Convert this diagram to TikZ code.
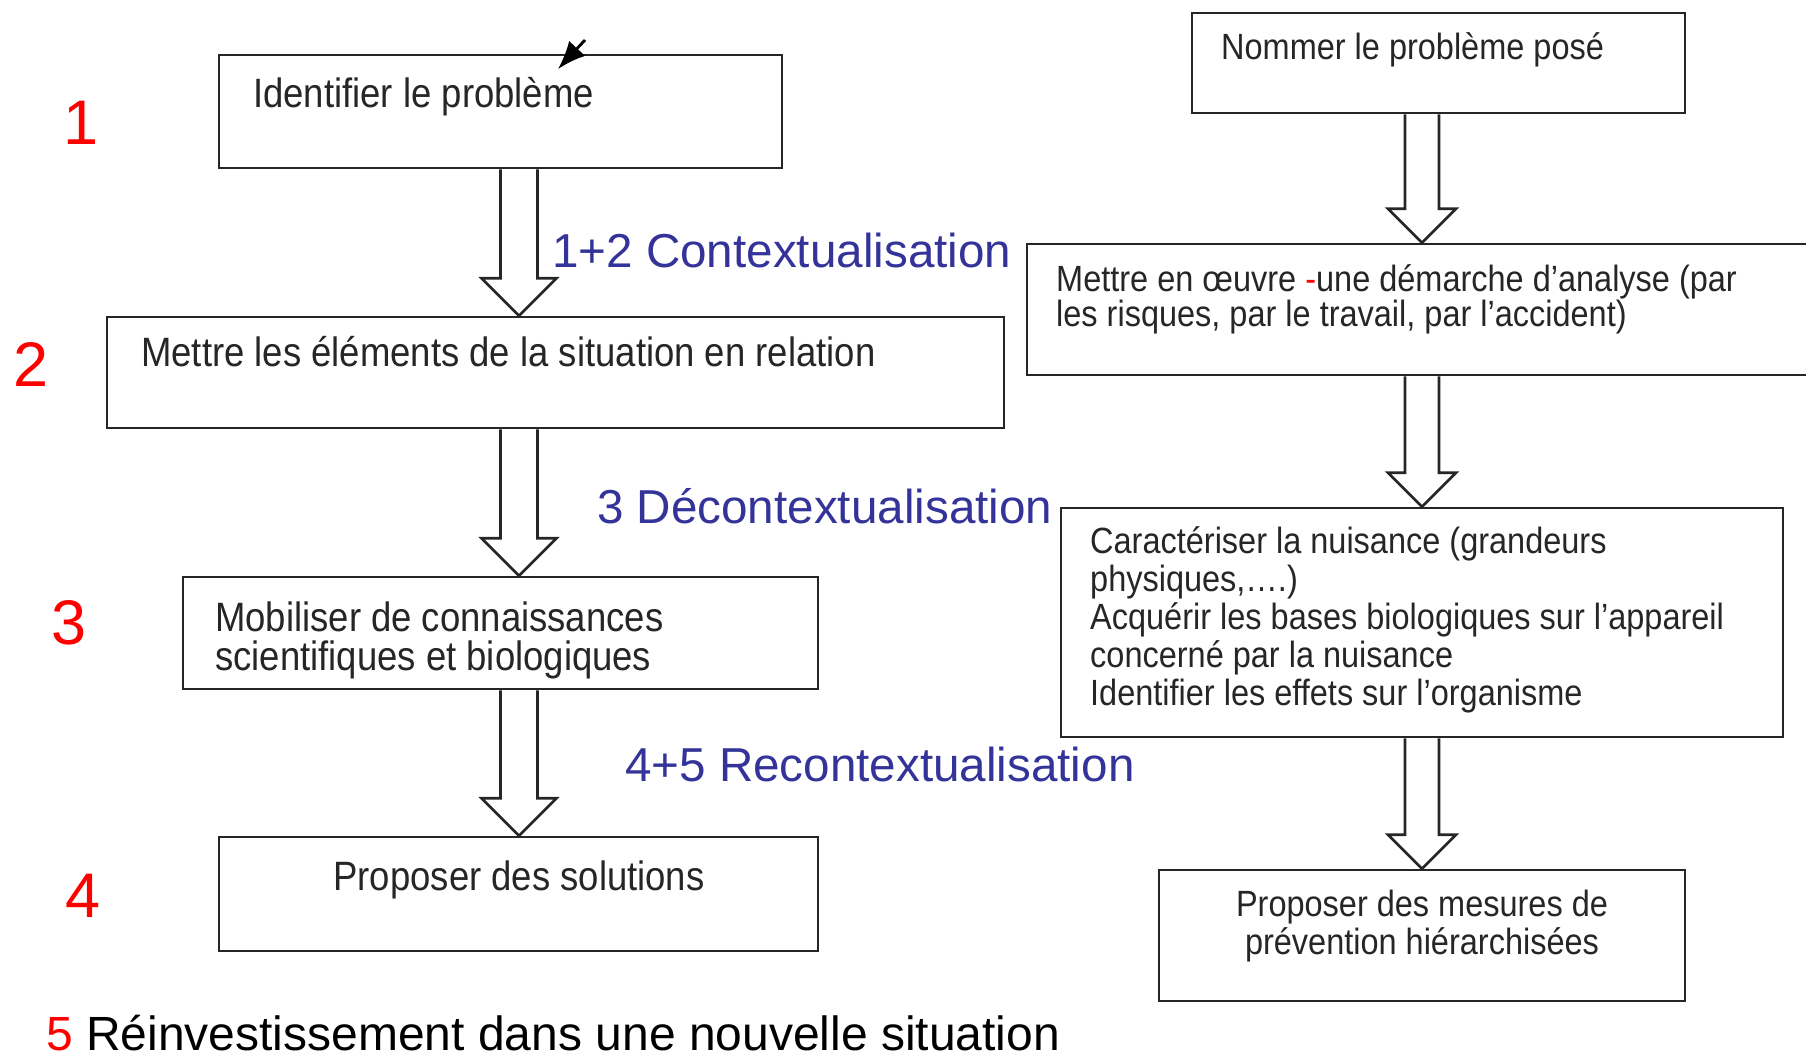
\documentclass[tikz,border=0pt]{standalone}
\usepackage{fontspec}
\setmainfont{Liberation Sans}
\newfontfamily\boxfont[FakeStretch=0.89]{Liberation Sans}
\usetikzlibrary{calc,arrows.meta}
\definecolor{lblblue}{RGB}{51,51,153}
\definecolor{numred}{RGB}{255,0,0}
\newcommand\blockarr[5]{%
  \draw[barrow] let \p1=(#1.south -| #3), \p2=(#2.north -| #3) in
    (\x1-#4pt,\y1) -- (\x1-#4pt,\y2+#5pt) -- (\x1-#5pt,\y2+#5pt) -- (\x2,\y2)
    -- (\x1+#5pt,\y2+#5pt) -- (\x1+#4pt,\y2+#5pt) -- (\x1+#4pt,\y1);}
\begin{document}
\begin{tikzpicture}[x=1pt,y=-1pt,
  box/.style={draw=black!85, line width=2.6pt, inner sep=0pt, fill=white},
  barrow/.style={draw=black!85, line width=2.6pt, fill=white, line join=miter},
  ltext/.style={font=\boxfont\fontsize{41}{39}\selectfont, text=black!85, anchor=base west, align=left, inner sep=0pt},
  rtext/.style={font=\boxfont\fontsize{36.5}{37.8}\selectfont, text=black!85, anchor=base west, align=left, inner sep=0pt},
  lbl/.style={font=\fontsize{47.6}{50}\selectfont, text=lblblue, anchor=base west, inner sep=0pt},
  num/.style={font=\fontsize{63}{63}\selectfont, text=numred, anchor=base, inner sep=0pt},
  foot/.style={font=\fontsize{48}{50}\selectfont, anchor=base west, inner sep=0pt}]
\useasboundingbox (0,0) rectangle (1806,1058);
\fill[white] (0,0) rectangle (1806,1058);
\coordinate (colL) at (519,0);
\coordinate (colR) at (1422,0);
% left column boxes
\node[box, minimum width=563pt, minimum height=113pt] (b1) at (500.5,111.5) {};
\node[box, minimum width=897pt, minimum height=111pt] (b2) at (555.5,372.5) {};
\node[box, minimum width=635pt, minimum height=112pt] (b3) at (500.5,633) {};
\node[box, minimum width=599pt, minimum height=114pt] (b4) at (518.5,894) {};
% right column boxes
\node[box, minimum width=493pt, minimum height=100pt] (r1) at (1438.5,63) {};
\node[box, minimum width=788pt, minimum height=131pt] (r2) at (1421,309.5) {};
\node[box, minimum width=722pt, minimum height=229pt] (r3) at (1422,622.5) {};
\node[box, minimum width=526pt, minimum height=131pt] (r4) at (1422,935.5) {};
% block arrows
\blockarr{b1}{b2}{colL}{18.5}{37.5}
\blockarr{b2}{b3}{colL}{18.5}{37.5}
\blockarr{b3}{b4}{colL}{18.5}{37.5}
\blockarr{r1}{r2}{colR}{17}{34}
\blockarr{r2}{r3}{colR}{17}{34}
\blockarr{r3}{r4}{colR}{17}{34}
% small arrow on box 1
\coordinate (sa) at (585,40);
\coordinate (sb) at (558,69);
\draw[line width=2.8pt, -{Latex[length=28pt,width=22pt]}] (sa) -- (sb);
% box texts (base anchor = baseline of last line)
\node[ltext] (t1) at (253,107) {Identifier le problème};
\node[ltext] (t2) at (141,366) {Mettre les éléments de la situation en relation};
\node[ltext] (t3) at (215,670) {Mobiliser de connaissances\\scientifiques et biologiques};
\node[ltext, anchor=base] (t4) at (519,890) {Proposer des solutions};
\node[rtext] (u1) at (1221,59) {Nommer le problème posé};
\node[rtext, font=\boxfont\fontsize{36.5}{35}\selectfont] (u2) at (1056,326) {Mettre en œuvre {\color{numred}-}une démarche d’analyse (par\\les risques, par le travail, par l’accident)};
\node[rtext] (u3) at (1090,705) {Caractériser la nuisance (grandeurs\\physiques,….)\\Acquérir les bases biologiques sur l’appareil\\concerné par la nuisance\\Identifier les effets sur l’organisme};
\node[rtext, anchor=base, align=center] (u4) at (1422,954) {Proposer des mesures de\\prévention hiérarchisées};
% blue labels
\node[lbl] (l1) at (552,267) {1+2 Contextualisation};
\node[lbl] (l2) at (597,523) {3 Décontextualisation};
\node[lbl] (l3) at (625,781) {4+5 Recontextualisation};
% red numbers
\node[num] (n1) at (81,144) {1};
\node[num] (n2) at (31,386) {2};
\node[num] (n3) at (69,644) {3};
\node[num] (n4) at (83,917) {4};
% footer
\node[foot] (f) at (46,1050) {{\color{numred}5} Réinvestissement dans une nouvelle situation};
\end{tikzpicture}
\end{document}
